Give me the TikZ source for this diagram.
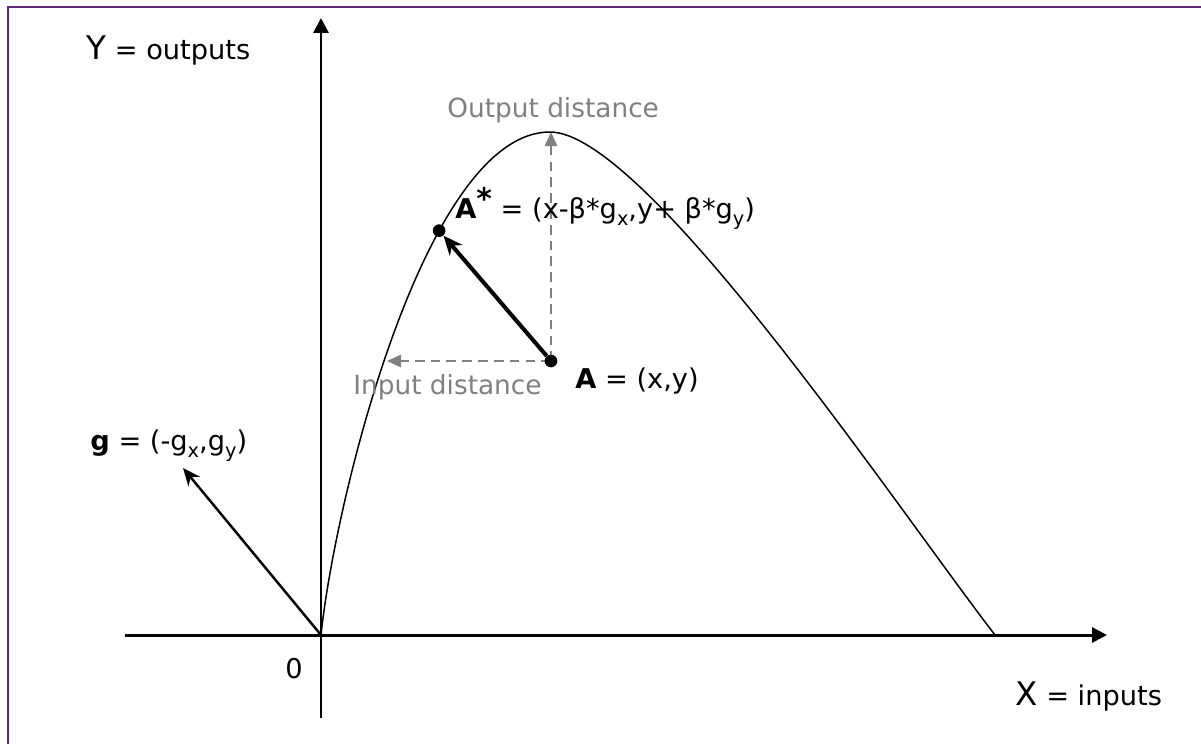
\documentclass[tikz,border=0pt]{standalone}
\usepackage{fontspec}
\setmainfont{DejaVu Sans}
\usetikzlibrary{arrows.meta, positioning}
\definecolor{framepurple}{RGB}{96,40,120}
\definecolor{distgray}{RGB}{128,128,128}
\newcommand{\lowidx}[1]{\raisebox{-0.28em}{\fontsize{11}{12}\selectfont #1}}
\newcommand{\starmark}{\raisebox{0.3em}{\fontsize{17}{17}\selectfont\bfseries *}}

\begin{document}
\begin{tikzpicture}[
			x=0.02cm, y=-0.02cm,
			axisline/.style={line width=1.7pt, -{Triangle[length=8.5pt, width=8.5pt]}},
			frontier/.style={line width=0.85pt},
			dot/.style={circle, fill=black, inner sep=0pt, minimum size=7.2pt},
			movearrow/.style={line width=2.3pt, -{Stealth[length=11pt, width=9.5pt]}},
			dirarrow/.style={line width=1.4pt, -{Stealth[length=10pt, width=8.5pt]}},
			distarrow/.style={line width=1.4pt, distgray, dash pattern=on 5.5pt off 3.5pt, -{Triangle[length=8pt, width=7pt]}},
			lbl/.style={anchor=base west, inner sep=0pt, font=\fontsize{15.5}{18}\selectfont},
			distlbl/.style={lbl, text=distgray, font=\fontsize{15}{18}\selectfont}
			]
			
			\useasboundingbox (0,0) rectangle (1201,744);
			
			% --- Frame ---
			\draw[framepurple, line width=1.2pt] (8,7) rectangle (1215,755);
			
			% --- Axes ---
			\coordinate (O) at (321,635);
			\coordinate (ytop) at (321,18);
			\coordinate (ybot) at (321,718);
			\coordinate (xleft) at (125,635);
			\coordinate (xend) at (1107,635);
			\draw[axisline] (xleft) -- (xend);
			\draw[axisline] (ybot) -- (ytop);
			
			% --- Frontier ---
			\coordinate (peak) at (550,132);
			\coordinate (xroot) at (995,635);
			\draw[frontier] (O) .. controls (335,500) and (425,132) .. coordinate[pos=0.67] (Astar) (peak)
			.. controls (645,132) and (895,505) .. (xroot);
			
			% --- Distances ---
			\coordinate (Apos) at (551,361);
			\coordinate (inhit) at (387,361);
			\draw[distarrow] (Apos) -- (inhit);
			\draw[distarrow] (Apos) -- (Apos |- peak);
			
			% --- Points ---
			\node[dot] (A) at (Apos) {};
			\node[dot] (Astardot) at (Astar) {};
			\draw[movearrow] (A) -- (Astardot);
			
			% --- Direction vector ---
			\coordinate (gtip) at (183,468);
			\draw[dirarrow] (O) -- (gtip);
			
			% --- Labels ---
			\node[lbl] (ylabel) at (86,59) {{\fontsize{18.5}{20}\selectfont Y} = outputs};
			\node[lbl] (xlabel) at (1015,705) {{\fontsize{18.5}{20}\selectfont X} = inputs};
			\node[lbl] (zero) at (285,678) {0};
			\node[distlbl] (outlabel) at (447,117) {Output distance};
			\node[distlbl] (inlabel) at (353,394) {Input distance};
			\node[lbl] (alabel) at (575,388) {\textbf{A} = (x,y)};
			\node[lbl] (aslabel) at (455,218) {\textbf{A}\starmark{} = (x-β*g\lowidx{x},y+ β*g\lowidx{y})};
			\node[lbl] (glabel) at (90,450) {\textbf{g} = (-g\lowidx{x},g\lowidx{y})};
			
\end{tikzpicture}
\end{document}
